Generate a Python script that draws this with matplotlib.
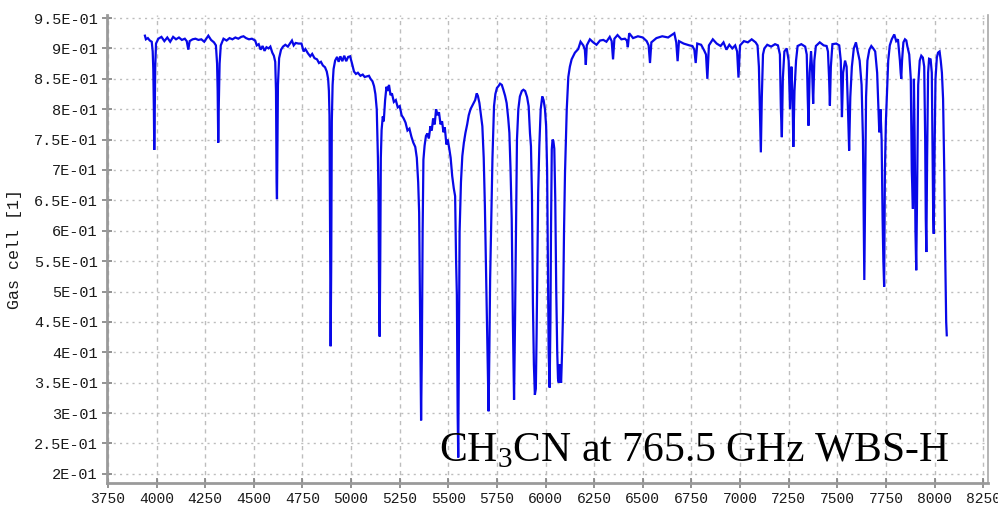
import matplotlib
matplotlib.use("Agg")
import matplotlib.pyplot as plt

# ---- data (frequency channel, gas cell transmission) ----
freq = [3940, 3945, 3955, 3965, 3975, 3980, 3983, 3986, 3988, 3990, 3993, 3997,
        4009, 4025, 4040, 4055, 4070, 4085, 4100, 4115, 4130, 4145, 4155, 4163,
        4170, 4185, 4200, 4215, 4230, 4245, 4258, 4266, 4280, 4295, 4305, 4311,
        4314, 4317, 4320, 4324, 4330, 4344, 4360, 4375, 4390, 4405, 4420, 4435,
        4447, 4460, 4475, 4490, 4507, 4515, 4525, 4535, 4545, 4555, 4565, 4576,
        4585, 4595, 4603, 4610, 4614, 4617, 4619, 4621, 4624, 4630, 4640, 4650,
        4662, 4675, 4688, 4696, 4705, 4715, 4730, 4745, 4756, 4765, 4778, 4790,
        4800, 4812, 4825, 4835, 4845, 4855, 4866, 4875, 4882, 4886, 4889, 4892,
        4895, 4898, 4901, 4905, 4910, 4918, 4928, 4936, 4945, 4955, 4965, 4975,
        4985, 4995, 5005, 5015, 5025, 5035, 5048, 5060, 5070, 5082, 5092, 5100,
        5110, 5118, 5125, 5132, 5138, 5141, 5144, 5147, 5150, 5153, 5157, 5163,
        5168, 5175, 5182, 5188, 5195, 5203, 5210, 5220, 5230, 5240, 5250, 5260,
        5270, 5280, 5290, 5300, 5310, 5320, 5330, 5338, 5345, 5350, 5355, 5360,
        5364, 5368, 5372, 5378, 5385, 5392, 5400, 5408, 5415, 5422, 5430, 5437,
        5445, 5452, 5460, 5468, 5475, 5482, 5490, 5497, 5505, 5512, 5520, 5528,
        5535, 5540, 5544, 5548, 5551, 5554, 5558, 5565, 5572, 5580, 5588, 5597,
        5605, 5614, 5622, 5630, 5638, 5646, 5652, 5660, 5668, 5675, 5682, 5688,
        5695, 5702, 5707, 5711, 5715, 5720, 5727, 5735, 5742, 5750, 5758, 5766,
        5775, 5783, 5792, 5800, 5808, 5814, 5820, 5826, 5832, 5838, 5843, 5848,
        5853, 5860, 5868, 5878, 5886, 5895, 5905, 5913, 5920, 5925, 5930, 5935,
        5940, 5945, 5950, 5954, 5958, 5962, 5968, 5975, 5983, 5990, 5997, 6003,
        6008, 6012, 6016, 6021, 6025, 6028, 6032, 6036, 6040, 6045, 6050, 6055,
        6060, 6064, 6068, 6072, 6076, 6080, 6085, 6090, 6095, 6100, 6104, 6109,
        6117, 6125, 6134, 6151, 6168, 6180, 6194, 6202, 6207, 6212, 6228, 6245,
        6262, 6280, 6297, 6313, 6330, 6340, 6347, 6354, 6370, 6390, 6408, 6418,
        6423, 6430, 6450, 6475, 6500, 6520, 6530, 6537, 6544, 6570, 6600, 6630,
        6662, 6672, 6679, 6686, 6710, 6740, 6755, 6765, 6772, 6780, 6800, 6815,
        6825, 6832, 6840, 6860, 6880, 6900, 6915, 6930, 6945, 6960, 6975, 6985,
        6992, 7000, 7020, 7040, 7060, 7080, 7090, 7097, 7102, 7107, 7112, 7118,
        7125, 7140, 7160, 7180, 7195, 7205, 7210, 7215, 7220, 7228, 7240, 7250,
        7257, 7264, 7270, 7274, 7280, 7288, 7296, 7315, 7335, 7343, 7348, 7352,
        7358, 7365, 7370, 7376, 7382, 7390, 7410, 7430, 7445, 7452, 7458, 7462,
        7467, 7475, 7495, 7510, 7518, 7524, 7530, 7540, 7548, 7555, 7561, 7567,
        7575, 7585, 7596, 7605, 7615, 7625, 7632, 7636, 7639, 7643, 7648, 7655,
        7665, 7675, 7685, 7695, 7705, 7712, 7716, 7722, 7728, 7733, 7737, 7741,
        7745, 7750, 7755, 7762, 7770, 7780, 7793, 7803, 7812, 7822, 7826, 7829,
        7833, 7840, 7848, 7855, 7860, 7870, 7878, 7883, 7889, 7894, 7898, 7902,
        7906, 7910, 7916, 7924, 7932, 7940, 7947, 7952, 7955, 7958, 7962, 7967,
        7972, 7980, 7986, 7990, 7993, 7996, 8000, 8005, 8012, 8018, 8026, 8032,
        8038, 8044, 8050, 8055, 8060, 8063]

gas = [0.921, 0.915, 0.917, 0.913, 0.911, 0.895, 0.866, 0.800, 0.733, 0.780, 0.870, 0.908,
       0.916, 0.919, 0.912, 0.918, 0.911, 0.919, 0.915, 0.918, 0.914, 0.916, 0.912, 0.898,
       0.912, 0.915, 0.916, 0.914, 0.915, 0.911, 0.917, 0.921, 0.914, 0.910, 0.905, 0.875,
       0.830, 0.745, 0.810, 0.875, 0.905, 0.916, 0.913, 0.917, 0.915, 0.918, 0.916, 0.919,
       0.920, 0.917, 0.915, 0.916, 0.913, 0.905, 0.907, 0.898, 0.904, 0.896, 0.902, 0.900,
       0.903, 0.893, 0.888, 0.878, 0.830, 0.680, 0.652, 0.720, 0.840, 0.884, 0.898, 0.903,
       0.906, 0.903, 0.909, 0.913, 0.905, 0.909, 0.908, 0.908, 0.895, 0.899, 0.892, 0.887,
       0.891, 0.884, 0.882, 0.876, 0.878, 0.872, 0.869, 0.862, 0.850, 0.830, 0.790, 0.600,
       0.410, 0.550, 0.780, 0.840, 0.866, 0.880, 0.886, 0.878, 0.887, 0.879, 0.888, 0.879,
       0.886, 0.887, 0.875, 0.862, 0.858, 0.860, 0.855, 0.857, 0.853, 0.854, 0.855, 0.850,
       0.846, 0.838, 0.825, 0.800, 0.720, 0.660, 0.500, 0.426, 0.550, 0.720, 0.766, 0.788,
       0.780, 0.815, 0.837, 0.830, 0.840, 0.823, 0.826, 0.812, 0.815, 0.803, 0.805, 0.790,
       0.785, 0.778, 0.765, 0.768, 0.755, 0.745, 0.738, 0.720, 0.680, 0.630, 0.450, 0.288,
       0.400, 0.600, 0.717, 0.740, 0.756, 0.760, 0.752, 0.772, 0.765, 0.785, 0.775, 0.800,
       0.790, 0.795, 0.775, 0.780, 0.762, 0.770, 0.742, 0.750, 0.735, 0.720, 0.690, 0.670,
       0.657, 0.550, 0.494, 0.300, 0.227, 0.400, 0.598, 0.680, 0.723, 0.745, 0.761, 0.775,
       0.790, 0.800, 0.805, 0.810, 0.815, 0.826, 0.822, 0.810, 0.790, 0.772, 0.720, 0.641,
       0.520, 0.400, 0.303, 0.400, 0.520, 0.600, 0.720, 0.805, 0.825, 0.835, 0.838, 0.842,
       0.840, 0.832, 0.822, 0.810, 0.785, 0.761, 0.700, 0.620, 0.450, 0.322, 0.450, 0.600,
       0.750, 0.800, 0.821, 0.830, 0.832, 0.830, 0.820, 0.805, 0.760, 0.739, 0.660, 0.480,
       0.380, 0.330, 0.340, 0.430, 0.550, 0.663, 0.740, 0.800, 0.821, 0.815, 0.800, 0.772,
       0.700, 0.550, 0.400, 0.342, 0.450, 0.600, 0.734, 0.750, 0.748, 0.735, 0.650, 0.500,
       0.400, 0.357, 0.350, 0.380, 0.360, 0.350, 0.400, 0.467, 0.600, 0.695, 0.740, 0.800,
       0.853, 0.870, 0.882, 0.893, 0.899, 0.911, 0.905, 0.898, 0.873, 0.905, 0.915, 0.910,
       0.906, 0.913, 0.914, 0.911, 0.919, 0.912, 0.882, 0.916, 0.922, 0.915, 0.916, 0.913,
       0.902, 0.925, 0.917, 0.920, 0.918, 0.912, 0.905, 0.876, 0.910, 0.917, 0.920, 0.918,
       0.925, 0.910, 0.879, 0.912, 0.908, 0.905, 0.904, 0.898, 0.876, 0.908, 0.906, 0.897,
       0.890, 0.850, 0.905, 0.915, 0.908, 0.904, 0.910, 0.898, 0.906, 0.900, 0.905, 0.895,
       0.852, 0.905, 0.912, 0.910, 0.915, 0.910, 0.905, 0.870, 0.800, 0.729, 0.820, 0.890,
       0.900, 0.906, 0.903, 0.907, 0.905, 0.890, 0.800, 0.754, 0.850, 0.895, 0.900, 0.880,
       0.800, 0.870, 0.820, 0.738, 0.830, 0.880, 0.904, 0.907, 0.903, 0.890, 0.820, 0.773,
       0.860, 0.895, 0.870, 0.809, 0.880, 0.904, 0.910, 0.905, 0.904, 0.895, 0.850, 0.806,
       0.870, 0.907, 0.908, 0.905, 0.880, 0.787, 0.860, 0.880, 0.870, 0.800, 0.732, 0.820,
       0.870, 0.900, 0.910, 0.895, 0.880, 0.840, 0.750, 0.620, 0.519, 0.650, 0.820, 0.880,
       0.898, 0.904, 0.900, 0.895, 0.860, 0.800, 0.762, 0.800, 0.750, 0.620, 0.550, 0.508,
       0.700, 0.780, 0.820, 0.880, 0.905, 0.915, 0.923, 0.912, 0.915, 0.880, 0.860, 0.850,
       0.880, 0.910, 0.915, 0.913, 0.904, 0.890, 0.850, 0.700, 0.636, 0.850, 0.750, 0.600,
       0.535, 0.650, 0.840, 0.880, 0.888, 0.885, 0.870, 0.750, 0.620, 0.565, 0.720, 0.860,
       0.883, 0.882, 0.860, 0.720, 0.630, 0.595, 0.720, 0.850, 0.885, 0.893, 0.895, 0.880,
       0.860, 0.817, 0.700, 0.560, 0.450, 0.428]

xticks = [3750, 4000, 4250, 4500, 4750, 5000, 5250, 5500, 5750, 6000,
          6250, 6500, 6750, 7000, 7250, 7500, 7750, 8000, 8250]
yticks = [0.20, 0.25, 0.30, 0.35, 0.40, 0.45, 0.50, 0.55, 0.60, 0.65,
          0.70, 0.75, 0.80, 0.85, 0.90, 0.95]
ytick_labels = ["2E-01", "2.5E-01", "3E-01", "3.5E-01", "4E-01", "4.5E-01",
                "5E-01", "5.5E-01", "6E-01", "6.5E-01", "7E-01", "7.5E-01",
                "8E-01", "8.5E-01", "9E-01", "9.5E-01"]
ylabel = "Gas cell [1]"
annotation = r"CH$_\mathregular{3}$CN at 765.5 GHz WBS-H"

mono = ["Liberation Mono", "DejaVu Sans Mono"]

fig = plt.figure(figsize=(9.98, 5.13), dpi=100)
ax = fig.add_axes([107 / 998, 30 / 513, 881 / 998, 468 / 513])

ax.plot(freq, gas, color="#0808e8", lw=1.6, solid_joinstyle="miter")

ax.set_xlim(3745, 8275)
ax.set_ylim(0.185, 0.955)
ax.set_xticks(xticks)
ax.set_xticklabels([str(v) for v in xticks], fontsize=10.5, family=mono)
ax.set_yticks(yticks)
ax.set_yticklabels(ytick_labels, fontsize=11, family=mono)

ax.xaxis.grid(True, color="#bdbdbd", lw=1.0, linestyle=(0, (3, 3)))
ax.yaxis.grid(True, color="#bdbdbd", lw=1.0, linestyle=(0, (1.5, 3)))
ax.set_axisbelow(True)

ax.tick_params(axis="both", direction="inout", length=7, width=1.2,
               color="#808080", labelcolor="#1a1a1a", pad=3)
for side in ("left", "bottom"):
    ax.spines[side].set_color("#9a9a9a")
    ax.spines[side].set_linewidth(2)
ax.spines["right"].set_color("#a8a8a8")
ax.spines["right"].set_linewidth(1.2)
ax.spines["top"].set_visible(False)

fig.text(15 / 998, 1 - 249 / 513, ylabel, rotation=90, ha="center", va="center",
         fontsize=12, family=mono, color="#1a1a1a")

ax.text((950 - 107) / 881, (483 - 461) / 468, annotation,
        transform=ax.transAxes, ha="right", va="baseline",
        fontsize=30, family="Liberation Serif", color="black")

fig.savefig("out.png", dpi=100)
